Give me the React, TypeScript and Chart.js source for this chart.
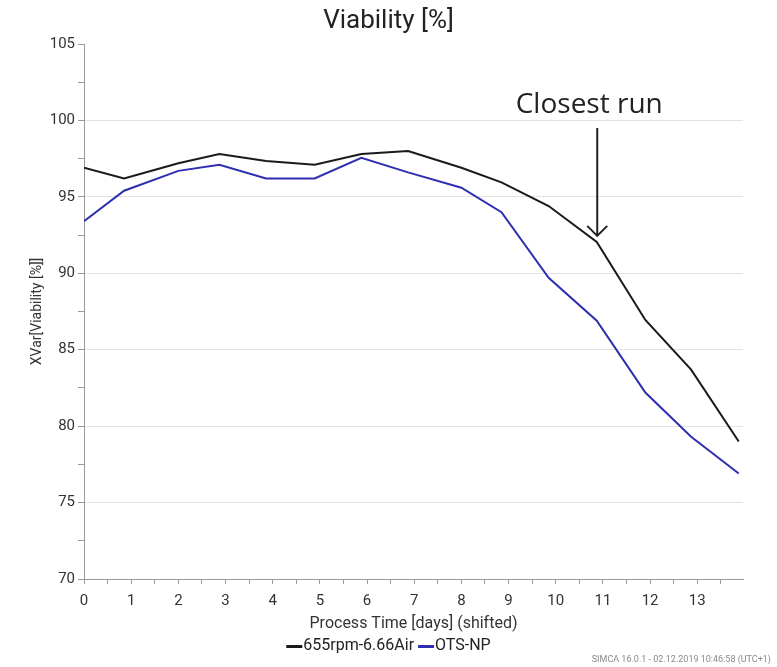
import React, { useEffect, useRef } from "react";
import { Chart, registerables } from "chart.js";

Chart.register(...registerables);

// Process time (days, shifted) at which each viability sample was taken
const DAYS = [0, 0.85, 2, 2.87, 3.86, 4.89, 5.88, 6.87, 8, 8.85, 9.85, 10.87, 11.9, 12.87, 13.88];

// Viability [%] per run
const RUN_A_LABEL = "655rpm-6.66Air";
const RUN_A = [96.9, 96.2, 97.2, 97.8, 97.35, 97.1, 97.8, 98.0, 96.9, 95.95, 94.4, 92.05, 86.95, 83.7, 79.0];
const RUN_B_LABEL = "OTS-NP";
const RUN_B = [93.4, 95.4, 96.7, 97.1, 96.2, 96.2, 97.55, 96.6, 95.6, 94.0, 89.7, 86.9, 82.2, 79.3, 76.9];

// Axis ranges
const X_MIN = 0;
const X_MAX = 13.97;
const Y_MIN = 70;
const Y_MAX = 105;

// Callout pointing at the closest run (data units)
const CALLOUT_TEXT = "Closest run";
const CALLOUT_X = 10.88;
const CALLOUT_TEXT_Y = 101.0;
const CALLOUT_FROM_Y = 99.5;
const CALLOUT_TO_Y = 92.45;

const FOOTER = "SIMCA 16.0.1 - 02.12.2019 10:46:58 (UTC+1)";

const FONT = "Roboto, 'Noto Sans', sans-serif";

const toPoints = (ys: number[]) => ys.map((y, i) => ({ x: DAYS[i], y }));

// Callout arrow, compact line legend and footer stamp
const overlayPlugin = {
  id: "overlay",
  afterDraw(chart: any) {
    const { ctx, scales } = chart;
    const xs = scales.x;
    const ys = scales.y;
    const px = xs.getPixelForValue(CALLOUT_X);
    const top = ys.getPixelForValue(CALLOUT_FROM_Y);
    const tip = ys.getPixelForValue(CALLOUT_TO_Y);
    const ty = ys.getPixelForValue(CALLOUT_TEXT_Y);

    ctx.save();
    ctx.fillStyle = "#222";
    ctx.font = "28px 'Open Sans', sans-serif";
    ctx.textAlign = "center";
    ctx.textBaseline = "middle";
    ctx.fillText(CALLOUT_TEXT, px - 8, ty);

    ctx.strokeStyle = "#222";
    ctx.lineWidth = 2;
    ctx.beginPath();
    ctx.moveTo(px, top);
    ctx.lineTo(px, tip);
    ctx.moveTo(px - 10, tip - 10);
    ctx.lineTo(px, tip);
    ctx.lineTo(px + 10, tip - 10);
    ctx.stroke();

    // legend row below the axis title
    const legendY = xs.bottom + 12;
    const dashW = 16;
    const gap = 4;
    ctx.font = "16px " + FONT;
    const items = chart.data.datasets.map((d: any) => ({
      label: d.label,
      color: d.borderColor,
      w: dashW + 1 + ctx.measureText(d.label).width,
    }));
    const total = items.reduce((s: number, it: any) => s + it.w, 0) + gap * (items.length - 1);
    let x = chart.width / 2 - total / 2;
    ctx.textAlign = "left";
    ctx.textBaseline = "middle";
    items.forEach((it: any) => {
      ctx.fillStyle = it.color;
      ctx.fillRect(x, legendY - 1, dashW, 3);
      ctx.fillStyle = "#222";
      ctx.fillText(it.label, x + dashW + 1, legendY);
      x += it.w + gap;
    });

    ctx.fillStyle = "#8a8a8a";
    ctx.font = "9px " + FONT;
    ctx.textAlign = "right";
    ctx.fillText(FOOTER, chart.width - 6, chart.height - 7);
    ctx.restore();
  },
};

export default function App() {
  const canvasRef = useRef<HTMLCanvasElement | null>(null);

  useEffect(() => {
    if (!canvasRef.current) return;
    const chart = new Chart(canvasRef.current, {
      type: "line",
      data: {
        datasets: [
          {
            label: RUN_A_LABEL,
            data: toPoints(RUN_A),
            borderColor: "#1a1a1a",
            backgroundColor: "#1a1a1a",
            borderWidth: 2,
            pointRadius: 0,
            tension: 0,
          },
          {
            label: RUN_B_LABEL,
            data: toPoints(RUN_B),
            borderColor: "#2e2eb0",
            backgroundColor: "#2e2eb0",
            borderWidth: 2,
            pointRadius: 0,
            tension: 0,
          },
        ],
      },
      options: {
        responsive: false,
        animation: false,
        layout: { padding: { left: 0, right: 0, top: 0, bottom: 33 } },
        plugins: {
          title: {
            display: true,
            text: "Viability [%]",
            color: "#222",
            font: { family: FONT, size: 26, weight: "normal" },
            padding: { top: 5.4, bottom: 7.4 },
          },
          legend: { display: false },
          tooltip: { enabled: false },
        },
        scales: {
          x: {
            type: "linear",
            min: X_MIN,
            max: X_MAX,
            afterFit: (s: any) => {
              s.height = 55;
            },
            title: {
              display: true,
              text: "Process Time [days] (shifted)",
              color: "#333",
              font: { family: FONT, size: 16 },
              padding: { top: 0, bottom: 0.4 },
            },
            ticks: {
              stepSize: 0.5,
              includeBounds: false,
              autoSkip: false,
              maxRotation: 0,
              padding: 8,
              color: "#333",
              font: { family: FONT, size: 15 },
              callback: (v: any) => (Number.isInteger(v) ? String(v) : ""),
            },
            grid: {
              drawOnChartArea: false,
              tickLength: 5,
              tickColor: "#999",
            },
            border: { color: "#999" },
          },
          y: {
            min: Y_MIN,
            max: Y_MAX,
            afterFit: (s: any) => {
              s.width = 84;
            },
            title: {
              display: true,
              text: "XVar[Viability [%]]",
              color: "#333",
              font: { family: FONT, size: 14 },
              padding: { top: 28.6, bottom: 0 },
            },
            ticks: {
              stepSize: 2.5,
              padding: 3,
              color: "#333",
              font: { family: FONT, size: 15 },
              callback: (v: any) => (v % 5 === 0 ? String(v) : ""),
            },
            grid: {
              tickLength: 6,
              tickColor: "#999",
              color: (c: any) =>
                c.tick && c.tick.value % 5 === 0 && c.tick.value !== Y_MAX && c.tick.value !== Y_MIN
                  ? "#e2e2e2"
                  : "rgba(0,0,0,0)",
            },
            border: { color: "#999" },
          },
          // empty right-hand margin axis so the title centres on the full width
          yRight: {
            position: "right",
            min: Y_MIN,
            max: Y_MAX,
            afterFit: (s: any) => {
              s.width = 34;
            },
            ticks: { display: false },
            grid: { display: false },
            border: { display: false },
          },
        },
      },
      plugins: [overlayPlugin],
    });
    return () => chart.destroy();
  }, []);

  return (
    <div style={{ position: "absolute", left: 0, top: 0, width: 777, height: 667, background: "#fff" }}>
      <canvas ref={canvasRef} width={777} height={667} />
    </div>
  );
}
